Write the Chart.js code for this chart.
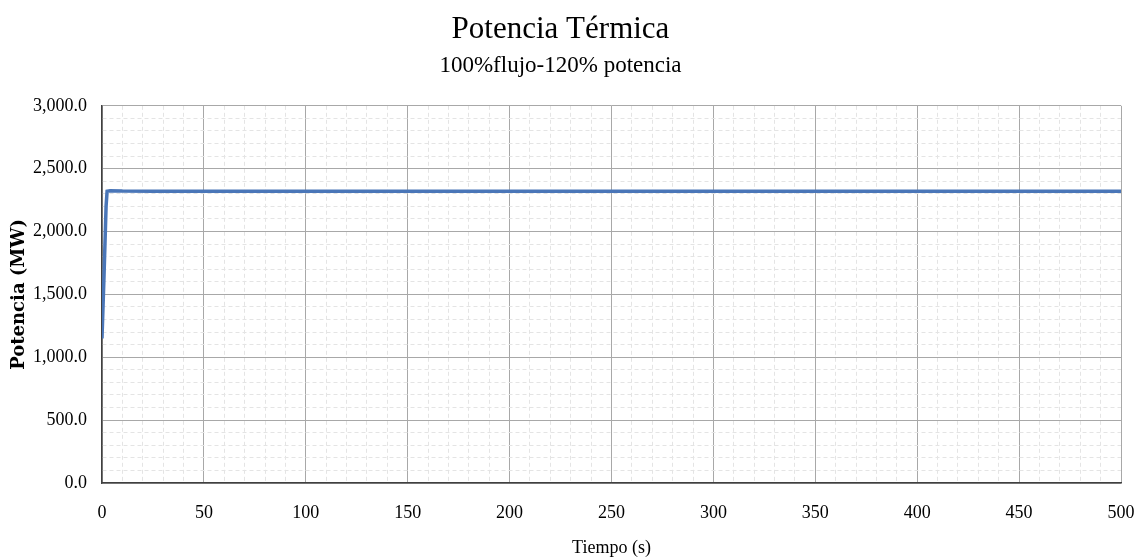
<!DOCTYPE html>
<html>
<head>
<meta charset="utf-8">
<script src="https://cdn.jsdelivr.net/npm/chart.js@4"></script>
<style>
html,body{margin:0;padding:0;background:#fff;}
#wrap{width:1141px;height:560px;position:relative;}
</style>
</head>
<body>
<div id="wrap"><canvas id="c" width="1141" height="560"></canvas></div>
<script>
const chartTitle = 'Potencia Térmica';
const chartSubtitle = '100%flujo-120% potencia';
const xAxisTitle = 'Tiempo (s)';
const yAxisTitle = 'Potencia (MW)';
const timeSeconds = [0, 1, 2, 2.5, 4, 10, 25, 50, 100, 150, 200, 250, 300, 350, 400, 450, 500];
const thermalPowerMW = [1150, 1650, 2200, 2320, 2325, 2322, 2320, 2320, 2320, 2320, 2320, 2320, 2320, 2320, 2320, 2320, 2320];
const xMin = 0, xMax = 500, xMajor = 50, xMinor = 10;
const yMin = 0, yMax = 3000, yMajor = 500, yMinor = 100;

const serif = "'Liberation Serif', 'DejaVu Serif', serif";
const points = timeSeconds.map((t, i) => ({x: t, y: thermalPowerMW[i]}));
const isMajor = (v, step) => Math.abs(v / step - Math.round(v / step)) < 1e-6;

new Chart(document.getElementById('c'), {
  type: 'line',
  data: {
    datasets: [{
      data: points,
      borderColor: '#4a76b8',
      borderWidth: 3.5,
      pointRadius: 0,
      tension: 0,
      fill: false
    }]
  },
  options: {
    responsive: false,
    animation: false,
    layout: {padding: {left: 0, right: 20, top: 0, bottom: 0}},
    plugins: {
      legend: {display: false},
      tooltip: {enabled: false},
      title: {
        display: true, text: chartTitle, color: '#000',
        font: {family: serif, size: 31, weight: 'normal'},
        padding: {top: 11, bottom: 0}
      },
      subtitle: {
        display: true, text: chartSubtitle, color: '#000',
        font: {family: serif, size: 23, weight: 'normal'},
        padding: {top: 4, bottom: 26}
      }
    },
    scales: {
      x: {
        type: 'linear', min: xMin, max: xMax,
        afterFit: s => { s.height = 77; s.paddingRight = 0; s.paddingLeft = 0; },
        ticks: {
          stepSize: xMinor, autoSkip: false, maxRotation: 0, padding: 19,
          color: '#000', font: {family: serif, size: 18},
          callback: v => isMajor(v, xMajor) ? String(v) : ''
        },
        grid: {
          drawTicks: false,
          color: ctx => (ctx.tick && isMajor(ctx.tick.value, xMajor)) ? '#a8a8a8' : '#e4e4e4',
          lineWidth: 1
        },
        border: {
          display: true, color: '#404040', width: 1.5,
          dash: ctx => (ctx.tick && isMajor(ctx.tick.value, xMajor)) ? [] : [4, 3]
        },
        title: {
          display: true, text: xAxisTitle, color: '#000',
          font: {family: serif, size: 18}, padding: {top: 4, bottom: 1}
        }
      },
      y: {
        min: yMin, max: yMax,
        afterFit: s => { s.width = 102; },
        ticks: {
          stepSize: yMinor, autoSkip: false, padding: 15,
          color: '#000', font: {family: serif, size: 18},
          callback: v => isMajor(v, yMajor) ? v.toLocaleString('en-US', {minimumFractionDigits: 1, maximumFractionDigits: 1}) : ''
        },
        grid: {
          drawTicks: false,
          color: ctx => (ctx.tick && isMajor(ctx.tick.value, yMajor)) ? '#a8a8a8' : '#e4e4e4',
          lineWidth: 1
        },
        border: {
          display: true, color: '#404040', width: 1.5,
          dash: ctx => (ctx.tick && isMajor(ctx.tick.value, yMajor)) ? [] : [4, 3]
        },
        title: {
          display: true, text: yAxisTitle, color: '#000',
          font: {family: "'DejaVu Serif', serif", size: 18, weight: 'bold'},
          padding: {top: 9, bottom: 0}
        }
      }
    }
  }
});
</script>
</body>
</html>
